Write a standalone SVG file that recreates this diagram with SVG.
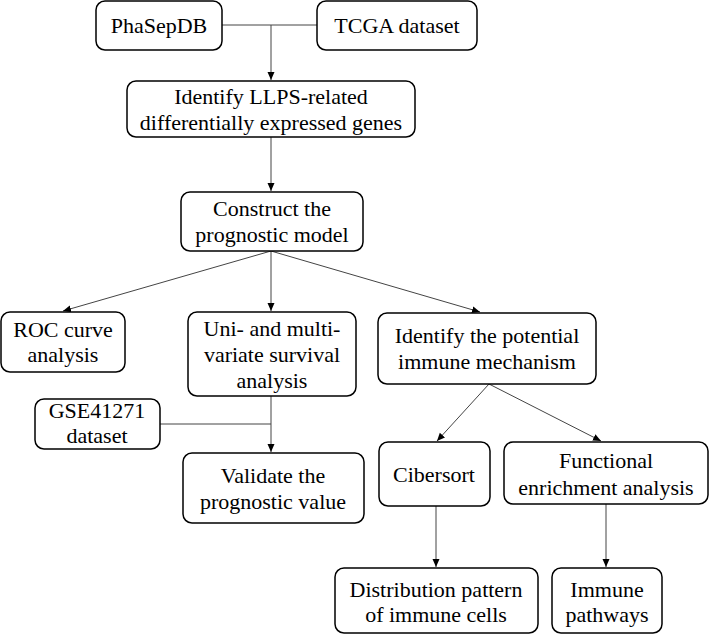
<svg xmlns="http://www.w3.org/2000/svg" width="709" height="635" viewBox="0 0 709 635">
<style>
.box{fill:#fff;stroke:#000;stroke-width:1.5}
.t{font-family:"Liberation Serif","Times New Roman",serif;font-size:22px;fill:#000;text-anchor:middle}
.ln{stroke:#444;stroke-width:1;fill:none}
.ar{marker-end:url(#ah)}
</style>
<defs>
<marker id="ah" markerWidth="8" markerHeight="8" refX="8" refY="4" orient="auto" markerUnits="userSpaceOnUse">
<path d="M0,0.5 L8,4 L0,7.5 Z" fill="#000"/>
</marker>
</defs>
<rect width="709" height="635" fill="#fff"/>
<g id="connectors">
<line class="ln" x1="222" y1="25" x2="317" y2="25"/>
<line class="ln ar" x1="271" y1="25" x2="271" y2="80"/>
<line class="ln ar" x1="271" y1="137" x2="271" y2="191"/>
<line class="ln ar" x1="271" y1="251" x2="63" y2="311"/>
<line class="ln ar" x1="271" y1="251" x2="271" y2="311"/>
<line class="ln ar" x1="271" y1="251" x2="480" y2="312"/>
<line class="ln ar" x1="271" y1="396" x2="271" y2="452"/>
<line class="ln" x1="160" y1="424" x2="271" y2="424"/>
<line class="ln ar" x1="489" y1="384" x2="437" y2="441"/>
<line class="ln ar" x1="489" y1="384" x2="601" y2="441"/>
<line class="ln ar" x1="436" y1="506" x2="436" y2="567"/>
<line class="ln ar" x1="606" y1="504" x2="606" y2="567"/>
</g>
<g id="phasepdb"><rect class="box" x="96" y="1" width="126" height="49" rx="9"/><text class="t" x="159" y="33">PhaSepDB</text></g>
<g id="tcga"><rect class="box" x="317" y="1" width="160" height="49" rx="9"/><text class="t" x="397" y="33">TCGA dataset</text></g>
<g id="llps"><rect class="box" x="127" y="81" width="288" height="56" rx="9"/><text class="t" x="271" y="104">Identify LLPS-related</text><text class="t" x="271" y="130">differentially expressed genes</text></g>
<g id="construct"><rect class="box" x="181" y="192" width="182" height="59" rx="9"/><text class="t" x="272" y="216">Construct the</text><text class="t" x="272" y="242">prognostic model</text></g>
<g id="roc"><rect class="box" x="1" y="312" width="124" height="60" rx="9"/><text class="t" x="63" y="337">ROC curve</text><text class="t" x="63" y="362">analysis</text></g>
<g id="uni"><rect class="box" x="188" y="312" width="168" height="84" rx="9"/><text class="t" x="272" y="336">Uni- and multi-</text><text class="t" x="272" y="362">variate survival</text><text class="t" x="272" y="388">analysis</text></g>
<g id="immune-mech"><rect class="box" x="378" y="313" width="218" height="71" rx="9"/><text class="t" x="487" y="343">Identify the potential</text><text class="t" x="487" y="369">immune mechanism</text></g>
<g id="gse"><rect class="box" x="35" y="399" width="125" height="50" rx="9"/><text class="t" x="97" y="418">GSE41271</text><text class="t" x="97" y="443">dataset</text></g>
<g id="validate"><rect class="box" x="183" y="453" width="181" height="70" rx="9"/><text class="t" x="273" y="483">Validate the</text><text class="t" x="273" y="509">prognostic value</text></g>
<g id="cibersort"><rect class="box" x="379" y="442" width="111" height="64" rx="9"/><text class="t" x="434" y="482">Cibersort</text></g>
<g id="functional"><rect class="box" x="504" y="442" width="204" height="62" rx="9"/><text class="t" x="606" y="468">Functional</text><text class="t" x="606" y="495">enrichment analysis</text></g>
<g id="distribution"><rect class="box" x="335" y="568" width="203" height="65" rx="9"/><text class="t" x="436" y="597">Distribution pattern</text><text class="t" x="436" y="622">of immune cells</text></g>
<g id="pathways"><rect class="box" x="552" y="568" width="110" height="65" rx="9"/><text class="t" x="607" y="597">Immune</text><text class="t" x="607" y="622">pathways</text></g>
</svg>
